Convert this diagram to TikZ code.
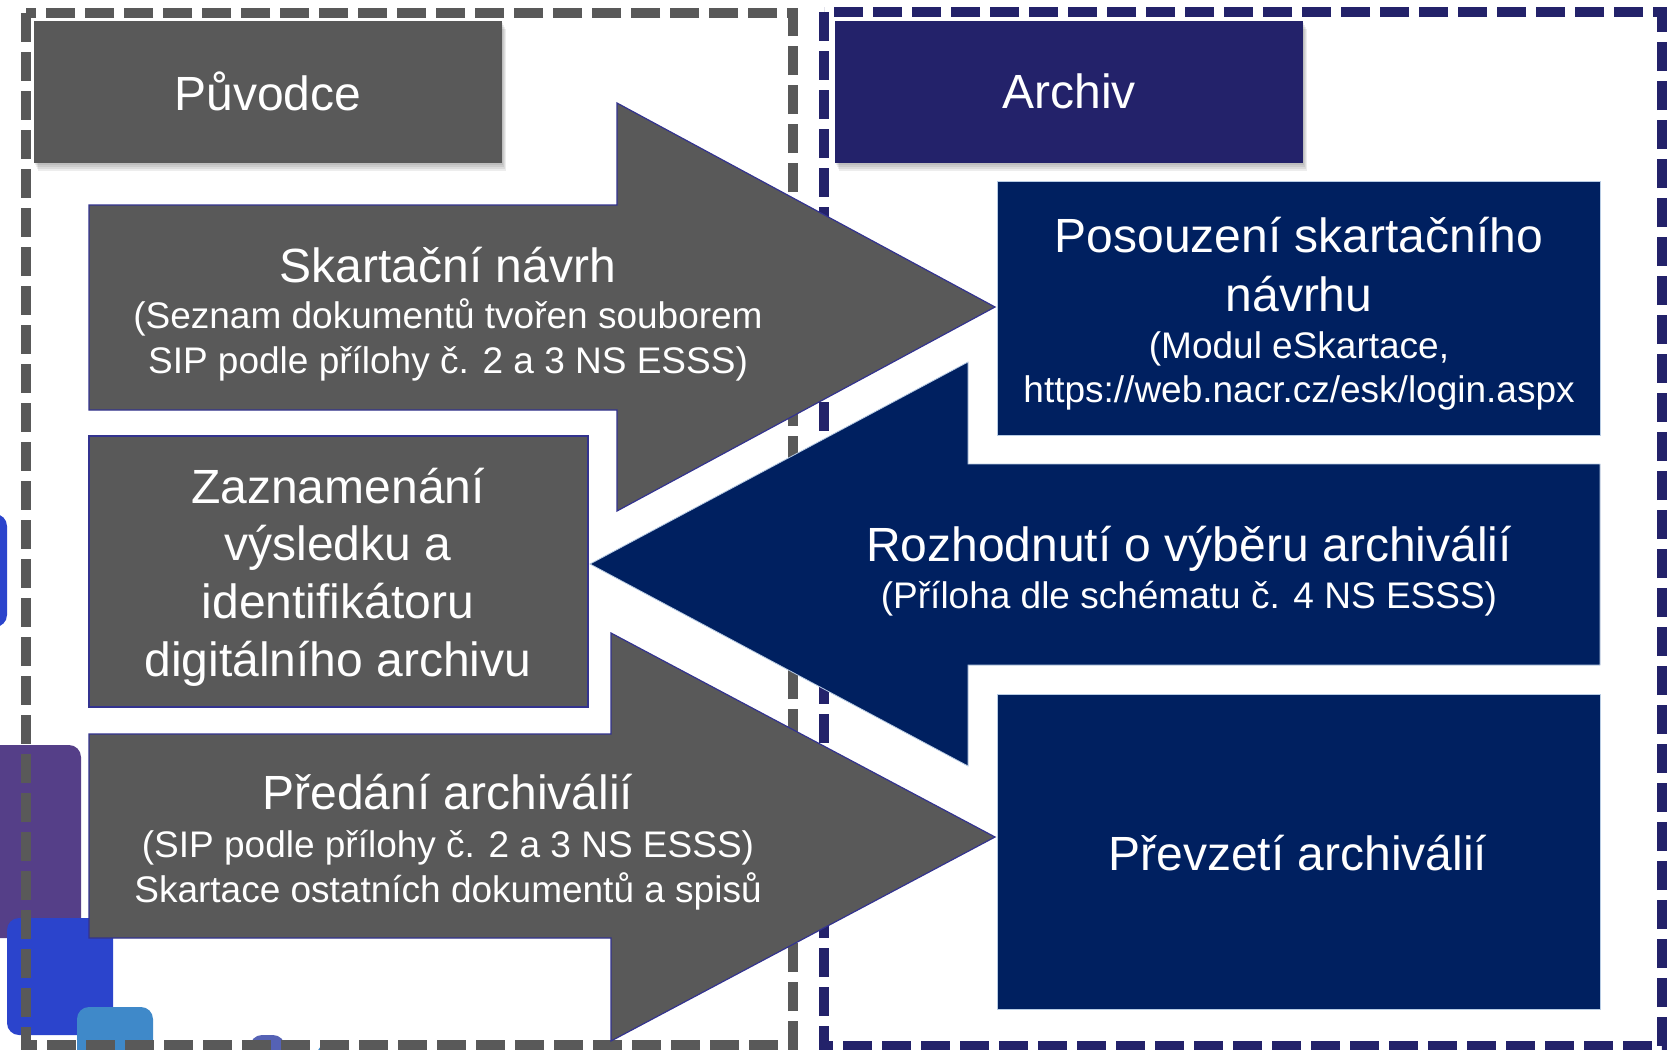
\documentclass[tikz,border=0pt]{standalone}
\usepackage{fontspec}
\setmainfont{Liberation Sans}
\definecolor{pgray}{HTML}{595959}
\definecolor{pedge}{HTML}{33338F}
\definecolor{phead}{HTML}{23226A}
\definecolor{pnavy}{HTML}{002060}
\definecolor{pnavyedge}{HTML}{B8CCE4}
\definecolor{dpurple}{HTML}{553F88}
\definecolor{dblue}{HTML}{2B44CC}
\definecolor{dlight}{HTML}{3F89C9}
\definecolor{dslate}{HTML}{5562B5}
\newcommand\myTitleFont{\fontsize{24}{28.8}\selectfont}
\newcommand\mySubFont{\fontsize{18.5}{22.3}\selectfont}
\begin{document}
\begin{tikzpicture}[x=0.5pt,y=-0.5pt,
  grayshape/.style={fill=pgray, draw=pedge, line width=0.6pt},
  navyshape/.style={fill=pnavy, draw=pnavyedge, line width=0.4pt},
  shadowlayer/.style={fill=black, opacity=0.07},
  border/.style={line width=5pt, dash pattern=on 14.5pt off 5pt},
  wtext/.style={text=white, align=center, inner sep=0pt, font=\mySubFont},
  htext/.style={text=white, align=center, inner sep=0pt, font=\myTitleFont},
  deco/.style={rounded corners=6pt}
]
\useasboundingbox (0,0) rectangle (1668,1049);
% decorative squares on the left
\fill[dblue, deco] (-20,514) rectangle (7,627);
\fill[dpurple, deco] (-20,745) rectangle (81,938);
\fill[dblue, deco] (7,918) rectangle (113,1035);
\fill[dlight, deco] (77,1007) rectangle (153,1070);
\fill[dslate, deco] (250,1035) rectangle (285,1070);
\fill[dlight, deco] (317,1043) rectangle (333,1070);
% dashed frames
\draw[border, pgray] (26,13) rectangle (793,1045);
\draw[border, phead] (824,12) rectangle (1662,1046);
% header boxes with soft shadows
\foreach \d in {2,4,6,8} {
  \fill[shadowlayer] (34+\d/2,21+\d) rectangle (502+\d/2,163+\d);
  \fill[shadowlayer] (835+\d/2,21+\d) rectangle (1303+\d/2,163+\d);
}
\fill[pgray] (34,21) rectangle (502,163);
\fill[phead] (835,21) rectangle (1303,163);
\node[htext] (puvodce) at (268,91) {Původce};
\node[htext] (archiv) at (1069,91) {Archiv};
% right-hand navy boxes
\path[navyshape] (997,181) rectangle (1600,435);
\path[navyshape] (997,694) rectangle (1600,1009);
% left gray box
\path[grayshape] (89,436) rectangle (588,707);
% arrow 1 (to the right)
\path[grayshape] (89,205) -- (617,205) -- (617,103) -- (995,307) -- (617,511) -- (617,410) -- (89,410) -- cycle;
% navy arrow (to the left)
\path[navyshape] (1600,464) -- (968,464) -- (968,362) -- (590,564) -- (968,766) -- (968,665) -- (1600,665) -- cycle;
% arrow 3 (to the right)
\path[grayshape] (89,734) -- (611,734) -- (611,633) -- (995,837) -- (611,1041) -- (611,938) -- (89,938) -- cycle;
% texts
\node[wtext] (skart) at (448,314) {{\myTitleFont Skartační návrh}\\[1pt](Seznam dokumentů tvořen souborem\\SIP podle přílohy č. 2 a 3 NS ESSS)};
\node[htext] (zazn) at (338,577) {Zaznamenání\\výsledku a\\identifikátoru\\digitálního archivu};
\node[wtext] (predani) at (448,842) {{\myTitleFont Předání archiválií}\\[2pt](SIP podle přílohy č. 2 a 3 NS ESSS)\\Skartace ostatních dokumentů a spisů};
\node[wtext] (posouz) at (1299,314) {{\myTitleFont Posouzení skartačního}\\[7pt]{\myTitleFont návrhu}\\[1pt](Modul eSkartace,\\https://web.nacr.cz/esk/login.aspx};
\node[wtext] (rozh) at (1189,571) {{\myTitleFont Rozhodnutí o výběru archiválií}\\[1pt](Příloha dle schématu č. 4 NS ESSS)};
\node[htext] (prevz) at (1298,853) {Převzetí archiválií};
\end{tikzpicture}
\end{document}
